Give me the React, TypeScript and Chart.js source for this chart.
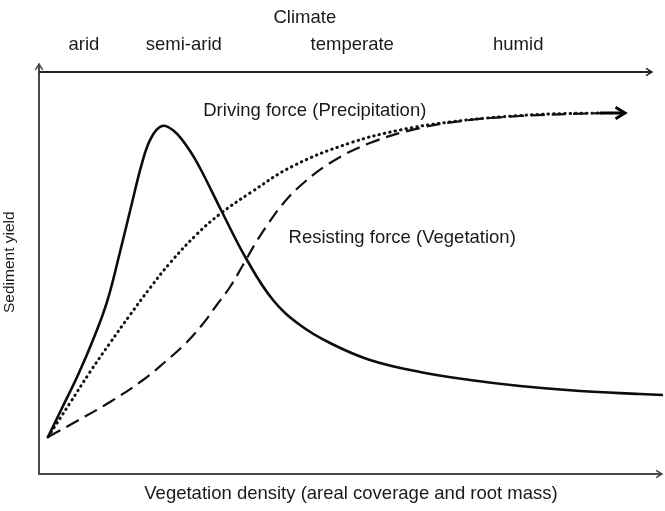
import { useEffect, useRef } from 'react';
import { Chart, registerables } from 'chart.js';

Chart.register(...registerables);

// Sediment yield (solid)
const SEDIMENT_X = [1.44, 3.69, 6.25, 8.65, 10.9, 12.98, 14.9, 16.51, 17.95, 19.71, 21.63, 23.88, 25.8, 29.33, 33.33, 37.5, 41.83, 46.63, 53.04, 61.06, 69.07, 77.08, 86.7, 96.31, 100];
const SEDIMENT_Y = [9.2, 16.42, 24.63, 33.33, 42.79, 55.22, 67.41, 77.36, 83.58, 86.57, 85.32, 81.09, 76.12, 65.17, 53.23, 43.28, 37.06, 32.59, 28.36, 25.37, 23.38, 21.89, 20.65, 19.9, 19.65];

// Driving force (Precipitation) (dotted)
const DRIVING_X = [1.44, 4.97, 8.17, 11.38, 14.58, 17.79, 20.99, 25.32, 29.01, 33.81, 40.71, 49.84, 57.85, 65.87, 73.88, 81.89, 89.9];
const DRIVING_Y = [9.2, 17.66, 25.37, 32.59, 39.55, 46.27, 52.49, 59.7, 64.68, 69.9, 76.62, 82.34, 85.57, 87.56, 88.81, 89.55, 89.8];

// Resisting force (Vegetation) (dashed)
const RESIST_X = [1.44, 6.09, 11.38, 16.67, 20.19, 23.4, 26.12, 28.37, 30.61, 32.69, 34.62, 36.7, 38.94, 41.83, 46.63, 53.04, 61.06, 69.07, 77.08, 85.1, 90.71];
const RESIST_Y = [9.2, 13.18, 17.91, 23.38, 27.86, 32.34, 37.06, 41.79, 46.52, 51.99, 57.21, 62.19, 66.92, 71.64, 77.36, 82.34, 86.07, 88.06, 89.05, 89.55, 89.8];

// Arrow tip at the end of the driving/resisting curves
const ARROW_TIP_X = 93.9;
const ARROW_TIP_Y = 89.8;

// Climate classes along the top axis
const CLIMATE_TITLE = 'Climate';
const CLIMATE_TITLE_X = 42.6;
const CLIMATE_LABELS = ['arid', 'semi-arid', 'temperate', 'humid'];
const CLIMATE_X = [7.2, 23.2, 50.2, 76.8];

const DRIVING_LABEL = 'Driving force (Precipitation)';
const RESIST_LABEL = 'Resisting force (Vegetation)';
const X_TITLE = 'Vegetation density (areal coverage and root mass)';
const Y_TITLE = 'Sediment yield';

const toPts = (xs: number[], ys: number[]) => xs.map((x, i) => ({ x, y: ys[i] }));

const FONT = '"Liberation Sans", Arial, sans-serif';
const TEXT_COLOR = '#1a1a1a';

function head(ctx: CanvasRenderingContext2D, tx: number, ty: number, ang: number, size: number) {
  ctx.beginPath();
  ctx.moveTo(tx - size * Math.cos(ang - 0.55), ty - size * Math.sin(ang - 0.55));
  ctx.lineTo(tx, ty);
  ctx.lineTo(tx - size * Math.cos(ang + 0.55), ty - size * Math.sin(ang + 0.55));
  ctx.stroke();
}

const decorPlugin = {
  id: 'decor',
  afterDatasetsDraw(chart: any) {
    const { ctx, chartArea } = chart;
    const xs = chart.scales.x;
    const ys = chart.scales.y;
    const L = chartArea.left, R = chartArea.right, T = chartArea.top, B = chartArea.bottom;
    ctx.save();
    ctx.lineCap = 'butt';
    // left axis
    ctx.strokeStyle = '#4a4a4a';
    ctx.lineWidth = 2;
    ctx.beginPath();
    ctx.moveTo(L, B + 1);
    ctx.lineTo(L, T - 8);
    ctx.stroke();
    ctx.lineWidth = 1.5;
    head(ctx, L, T - 8, -Math.PI / 2, 7);
    // bottom axis
    ctx.lineWidth = 2;
    ctx.beginPath();
    ctx.moveTo(L, B);
    ctx.lineTo(R - 1, B);
    ctx.stroke();
    ctx.lineWidth = 1.5;
    head(ctx, R - 1, B, 0, 7);
    // top axis
    ctx.strokeStyle = '#222';
    ctx.lineWidth = 2;
    ctx.beginPath();
    ctx.moveTo(L, T);
    ctx.lineTo(R - 11, T);
    ctx.stroke();
    ctx.lineWidth = 1.5;
    head(ctx, R - 11, T, 0, 7);

    // arrow at end of driving/resisting curves
    const lx = xs.getPixelForValue(DRIVING_X[DRIVING_X.length - 1]);
    const ly = ys.getPixelForValue(DRIVING_Y[DRIVING_Y.length - 1]);
    const ax = xs.getPixelForValue(ARROW_TIP_X);
    const ay = ys.getPixelForValue(ARROW_TIP_Y);
    ctx.strokeStyle = '#000';
    ctx.lineWidth = 3;
    ctx.beginPath();
    ctx.moveTo(lx, ly);
    ctx.lineTo(ax - 2, ay);
    ctx.stroke();
    ctx.lineWidth = 3;
    ctx.lineJoin = 'miter';
    head(ctx, ax, ay, 0, 11);

    // texts
    ctx.fillStyle = TEXT_COLOR;
    ctx.textAlign = 'center';
    ctx.textBaseline = 'middle';
    ctx.font = `18.5px ${FONT}`;
    ctx.fillText(CLIMATE_TITLE, xs.getPixelForValue(CLIMATE_TITLE_X), T - 54);
    CLIMATE_LABELS.forEach((t, i) => ctx.fillText(t, xs.getPixelForValue(CLIMATE_X[i]), T - 27));
    ctx.fillText(DRIVING_LABEL, xs.getPixelForValue(44.2), ys.getPixelForValue(90.3));
    ctx.fillText(RESIST_LABEL, xs.getPixelForValue(58.2), ys.getPixelForValue(58.7));
    ctx.fillText(X_TITLE, xs.getPixelForValue(50), B + 20);
    ctx.save();
    ctx.font = `15.5px ${FONT}`;
    ctx.translate(L - 29, ys.getPixelForValue(52.7));
    ctx.rotate(-Math.PI / 2);
    ctx.fillText(Y_TITLE, 0, 0);
    ctx.restore();
    ctx.restore();
  },
};

export default function App() {
  const ref = useRef<HTMLCanvasElement | null>(null);
  useEffect(() => {
    document.body.style.margin = '0';
    const canvas = ref.current;
    if (!canvas) return;
    const chart = new Chart(canvas, {
      type: 'scatter',
      data: {
        datasets: [
          {
            label: 'Sediment yield',
            data: toPts(SEDIMENT_X, SEDIMENT_Y),
            showLine: true,
            borderColor: '#0d0d0d',
            borderWidth: 2.6,
            pointRadius: 0,
            tension: 0.4,
            fill: false,
          },
          {
            label: 'Driving force',
            data: toPts(DRIVING_X, DRIVING_Y),
            showLine: true,
            borderColor: '#111',
            borderWidth: 3,
            borderDash: [0.5, 5],
            borderCapStyle: 'round',
            pointRadius: 0,
            tension: 0.4,
            fill: false,
          },
          {
            label: 'Resisting force',
            data: toPts(RESIST_X, RESIST_Y),
            showLine: true,
            borderColor: '#111',
            borderWidth: 2.2,
            borderDash: [14, 7],
            pointRadius: 0,
            tension: 0.4,
            fill: false,
          },
        ],
      },
      options: {
        animation: false,
        responsive: false,
        maintainAspectRatio: false,
        layout: { padding: { left: 39, top: 72, right: 2, bottom: 37 } },
        plugins: { legend: { display: false }, tooltip: { enabled: false } },
        scales: {
          x: { type: 'linear', min: 0, max: 100, display: false },
          y: { type: 'linear', min: 0, max: 100, display: false },
        },
      },
      plugins: [decorPlugin],
    } as any);
    return () => chart.destroy();
  }, []);
  return (
    <div style={{ width: 665, height: 511, background: '#fff' }}>
      <canvas ref={ref} width={665} height={511} style={{ display: 'block' }} />
    </div>
  );
}
